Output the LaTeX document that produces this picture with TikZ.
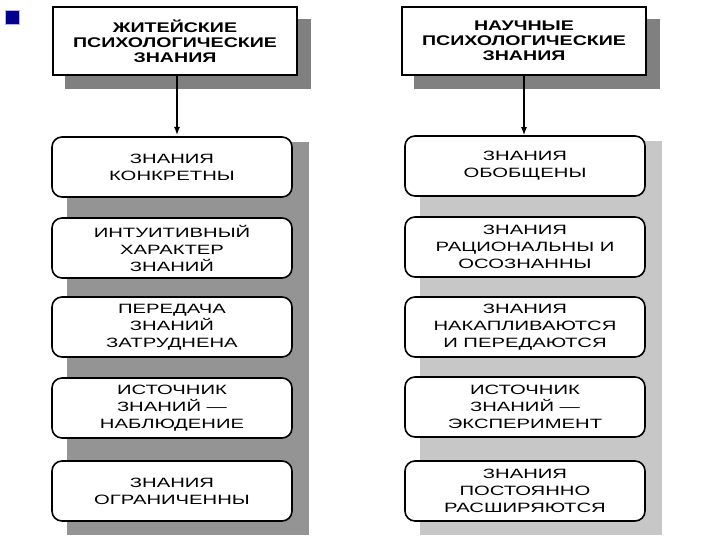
\documentclass[tikz,border=0pt]{standalone}
\usepackage{fontspec}
\setmainfont{Liberation Sans}
\newfontfamily\cellfont[FakeStretch=1.5]{Liberation Sans}
\newfontfamily\headfont[FakeStretch=1.4]{Liberation Sans}
\usetikzlibrary{arrows.meta,backgrounds}

\begin{document}
\begin{tikzpicture}[x=1pt, y=-1pt,
        every node/.style={font=\cellfont\fontsize{13.5}{17}\selectfont},
        head/.style={draw, line width=1.8pt, fill=white, minimum width=244pt, minimum height=68pt, align=center,
            font=\headfont\bfseries\fontsize{14}{15}\selectfont},
        item/.style={draw, line width=1.6pt, rounded corners=10pt, fill=white, minimum width=240pt, minimum height=60pt, align=center},
        hshadow/.style={fill=black!50},
        darkpanel/.style={fill=black!42},
        lightpanel/.style={fill=black!22}
    ]
    \useasboundingbox (0,0) rectangle (720,540);

    \node[fill=blue!55!black, draw=blue!30, minimum size=14pt, inner sep=0pt] (bullet) at (12,17) {};

    % left column
    \node[head] (dailyhead) at (175,41) {ЖИТЕЙСКИЕ\\ПСИХОЛОГИЧЕСКИЕ\\ЗНАНИЯ};
    \node[item] (daily1) at (172,167) {ЗНАНИЯ\\КОНКРЕТНЫ};
    \node[item] (daily2) at (172,248) {ИНТУИТИВНЫЙ\\ХАРАКТЕР\\ЗНАНИЙ};
    \node[item] (daily3) at (172,327) {ПЕРЕДАЧА\\ЗНАНИЙ\\ЗАТРУДНЕНА};
    \node[item] (daily4) at (172,408) {ИСТОЧНИК\\ЗНАНИЙ —\\НАБЛЮДЕНИЕ};
    \node[item] (daily5) at (172,491) {ЗНАНИЯ\\ОГРАНИЧЕННЫ};

    % right column
    \node[head] (scihead) at (524,41) {НАУЧНЫЕ\\ПСИХОЛОГИЧЕСКИЕ\\ЗНАНИЯ};
    \node[item] (sci1) at (525,166) {ЗНАНИЯ\\ОБОБЩЕНЫ};
    \node[item] (sci2) at (525,247) {ЗНАНИЯ\\РАЦИОНАЛЬНЫ И\\ОСОЗНАННЫ};
    \node[item] (sci3) at (525,327) {ЗНАНИЯ\\НАКАПЛИВАЮТСЯ\\И ПЕРЕДАЮТСЯ};
    \node[item] (sci4) at (525,407) {ИСТОЧНИК\\ЗНАНИЙ —\\ЭКСПЕРИМЕНТ};
    \node[item] (sci5) at (525,491) {ЗНАНИЯ\\ПОСТОЯННО\\РАСШИРЯЮТСЯ};

    \begin{scope}[on background layer]
        \fill[hshadow] ([xshift=13pt,yshift=-13pt]dailyhead.north west) rectangle ([xshift=13pt,yshift=-13pt]dailyhead.south east);
        \fill[hshadow] ([xshift=13pt,yshift=-13pt]scihead.north west) rectangle ([xshift=13pt,yshift=-13pt]scihead.south east);
        \fill[darkpanel] ([xshift=16pt,yshift=-6pt]daily1.north west) rectangle ([xshift=16pt,yshift=-13pt]daily5.south east);
        \fill[lightpanel] ([xshift=16pt,yshift=-6pt]sci1.north west) rectangle ([xshift=16pt,yshift=-13pt]sci5.south east);
    \end{scope}

    \draw[-{Latex[length=8pt,width=6pt]}, line width=1.4pt] (dailyhead.south) ++(2,0) -- (177,135);
    \draw[-{Latex[length=8pt,width=6pt]}, line width=1.4pt] (scihead.south) -- (scihead.south |- sci1.north);
\end{tikzpicture}
\end{document}
